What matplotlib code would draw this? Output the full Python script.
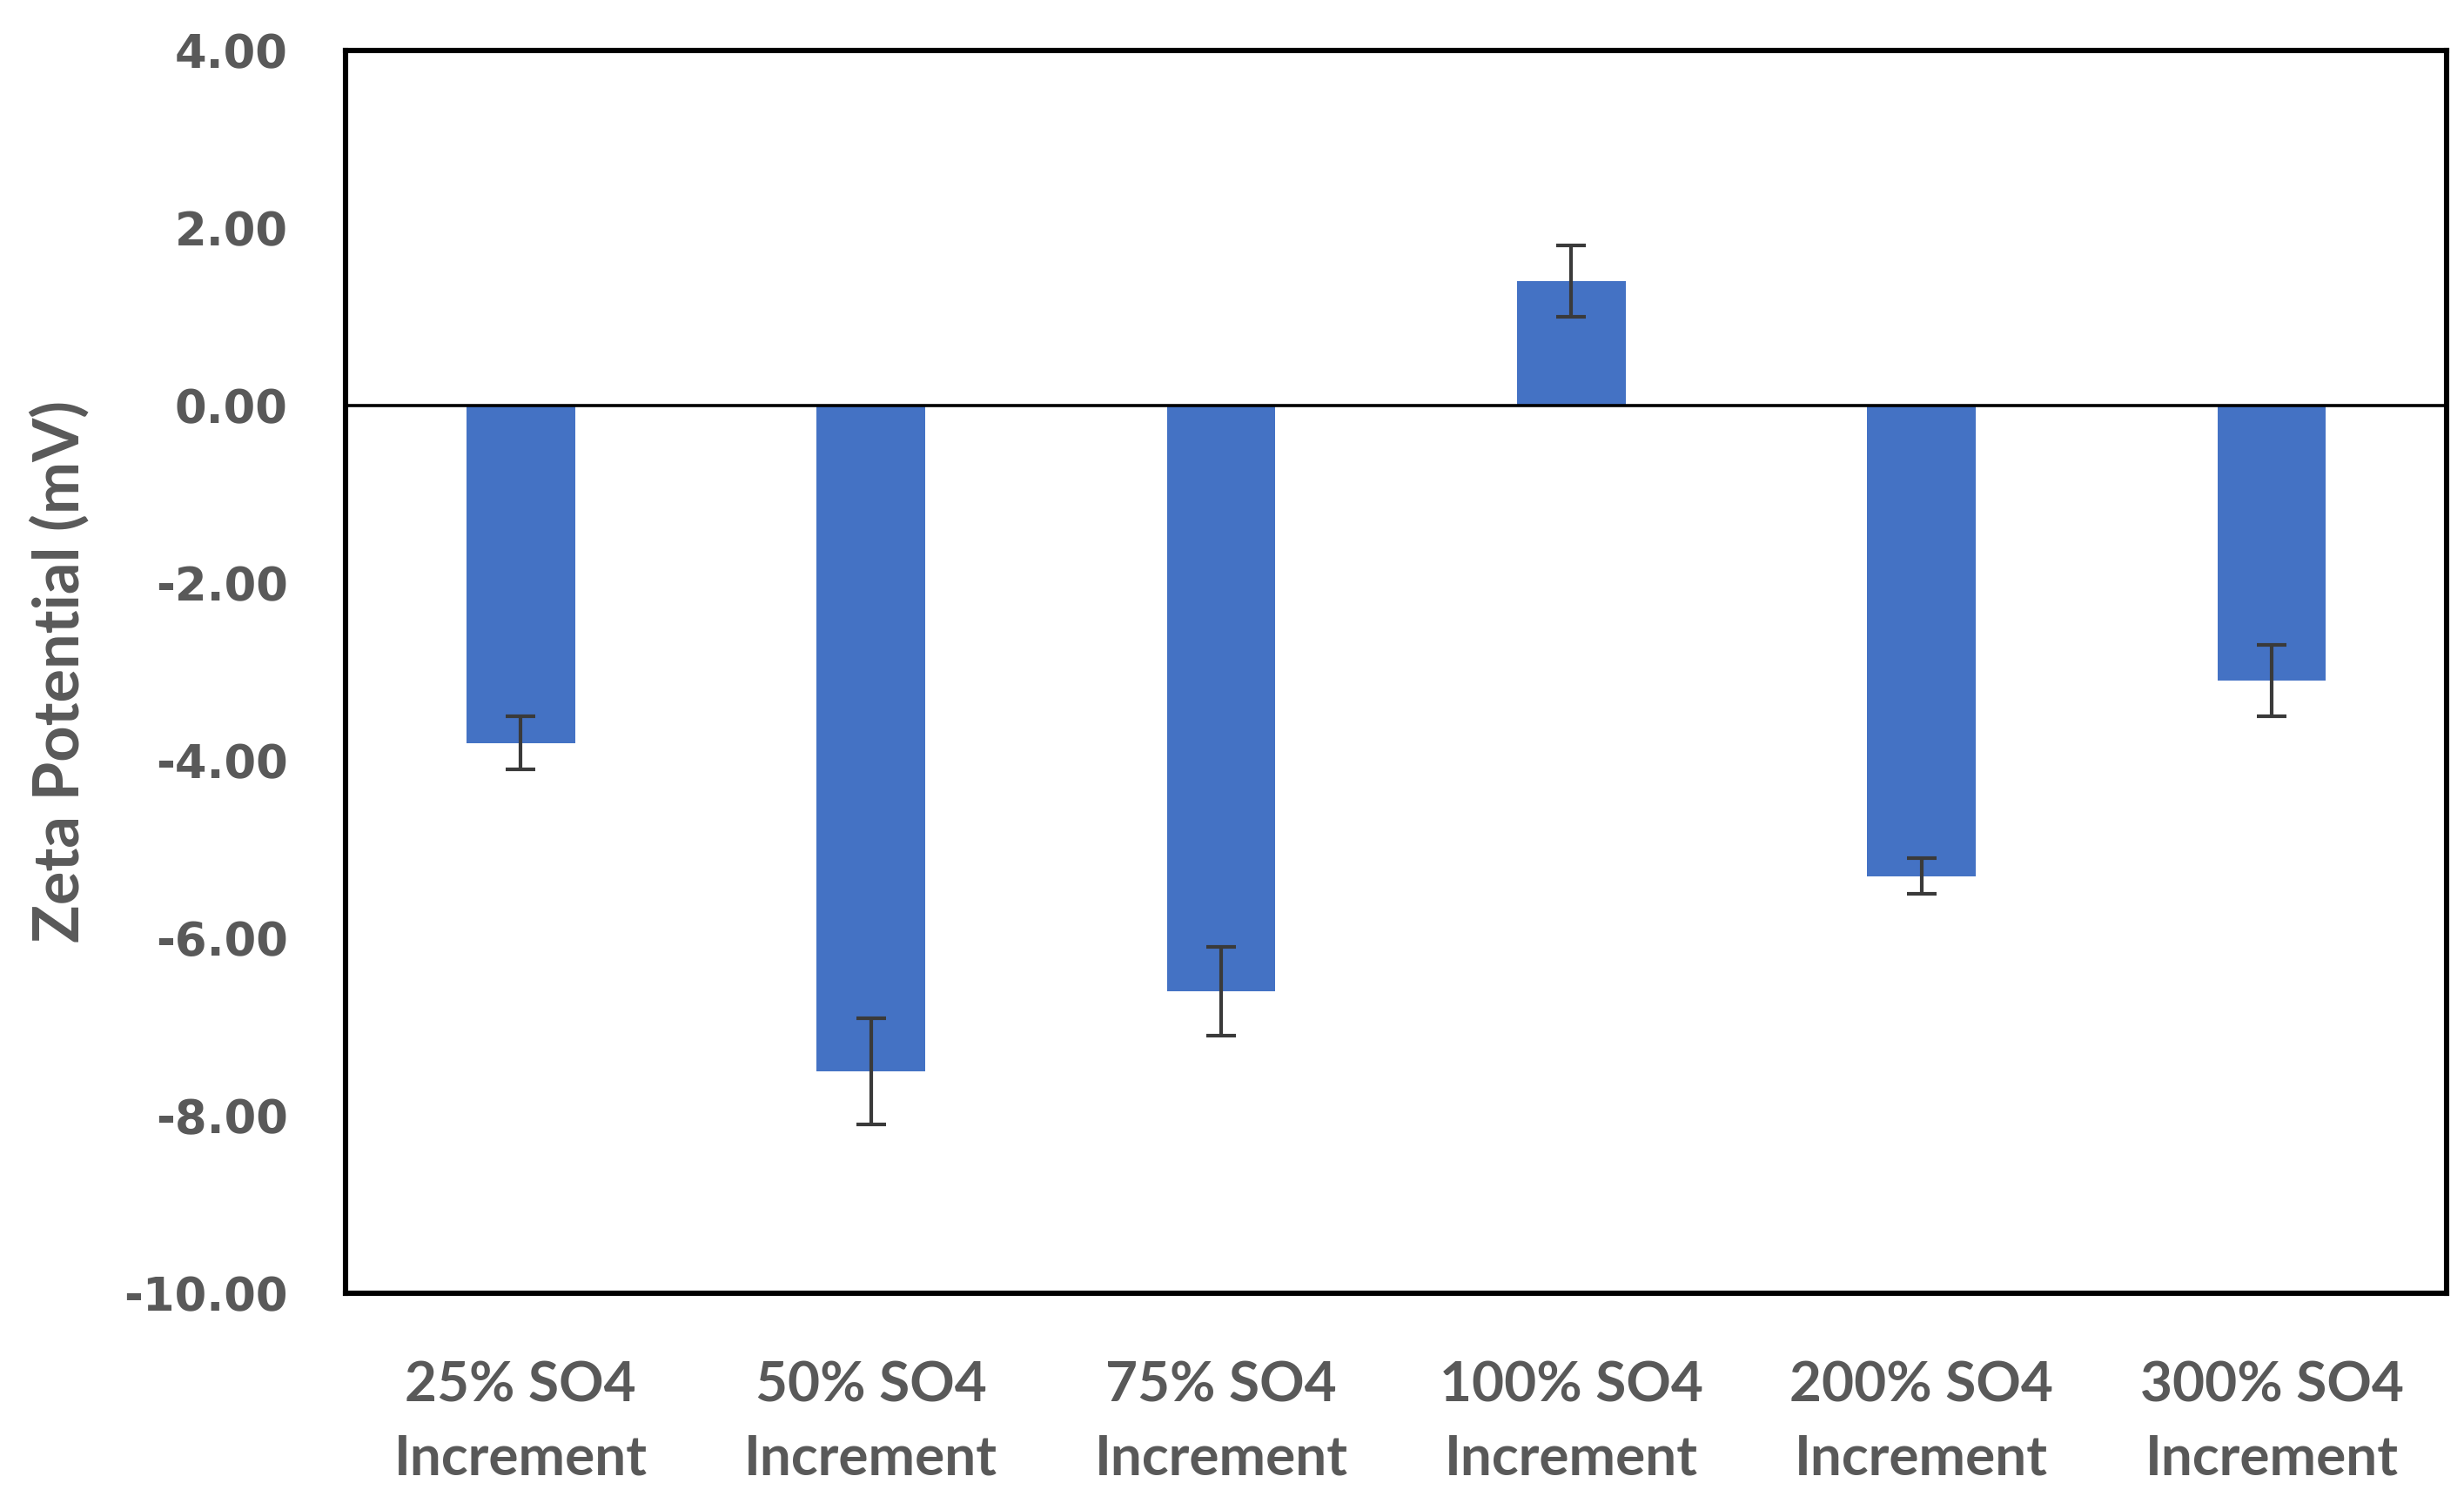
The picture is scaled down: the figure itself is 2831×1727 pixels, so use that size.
import matplotlib
matplotlib.use("Agg")
import matplotlib.pyplot as plt
import numpy as np

categories = ["25% SO4\nIncrement", "50% SO4\nIncrement", "75% SO4\nIncrement",
              "100% SO4\nIncrement", "200% SO4\nIncrement", "300% SO4\nIncrement"]
zeta = [-3.8, -7.5, -6.6, 1.4, -5.3, -3.1]      # mean zeta potential (mV)
err = [0.3, 0.6, 0.5, 0.4, 0.2, 0.4]            # error bar half-width
yticks = [4, 2, 0, -2, -4, -6, -8, -10]

grey = "#595959"

fig = plt.figure(figsize=(14.155, 8.635), dpi=200)
ax = fig.add_axes([0.1403, 0.1396, 0.8527, 0.8268])

x = np.arange(len(categories))
ax.bar(x, zeta, width=0.31, color="#4472C4", zorder=2)
ax.errorbar(x, zeta, yerr=err, fmt="none", ecolor="#3a3a3a", elinewidth=1.5,
            capsize=6, capthick=1.5, zorder=3)
ax.axhline(0, color="black", linewidth=1.3, zorder=4)

ax.set_xlim(-0.5, len(categories) - 0.5)
ax.set_ylim(-10, 4)
ax.set_yticks(yticks)
ax.set_yticklabels([f"{v:.2f}" for v in yticks], fontfamily="DejaVu Sans",
                   fontweight="bold", fontsize=19, color=grey)
ax.set_xticks(x)
ax.set_xticklabels(categories, fontfamily="Lato", fontweight="bold",
                   fontsize=23, color=grey, linespacing=1.56)
ax.tick_params(axis="both", length=0)
ax.tick_params(axis="y", pad=24)
ax.tick_params(axis="x", pad=28)

ax.set_ylabel("Zeta Potential (mV)", fontfamily="Lato", fontweight="bold",
              fontsize=26, color=grey, labelpad=14)

for s in ax.spines.values():
    s.set_linewidth(2.2)
    s.set_color("black")

fig.savefig("out.png", dpi=200)
